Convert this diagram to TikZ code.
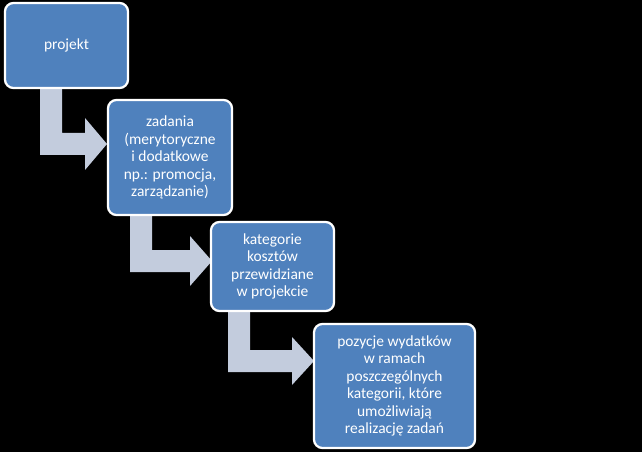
\documentclass[tikz,border=0pt]{standalone}
\usepackage{fontspec}
\setmainfont{Carlito}
\definecolor{boxblue}{HTML}{4F81BD}
\definecolor{arrowgray}{HTML}{C3CCDD}
\begin{document}
\begin{tikzpicture}[x=0.025cm, y=-0.025cm,
                    box_style/.style={draw=white, line width=1.6pt, fill=boxblue, rounded corners=6pt,
                                      text=white, align=center, font=\fontsize{11}{12.5}\selectfont, inner sep=2pt},
                    arrow_style/.style={fill=arrowgray}
   ]
   \fill[black] (0,0) rectangle (642,452);
   % Bent arrows
   \fill[arrow_style] (40,88) -- (62,88) -- (62,133) -- (85,133) -- (85,118) -- (107,144)
        -- (85,170) -- (85,155) -- (40,155) -- cycle;
   \fill[arrow_style] (130,215) -- (152,215) -- (152,250) -- (190,250) -- (190,236) -- (212,261)
        -- (190,286) -- (190,272) -- (130,272) -- cycle;
   \fill[arrow_style] (228,311) -- (250,311) -- (250,350) -- (292,350) -- (292,337) -- (314,361)
        -- (292,385) -- (292,372) -- (228,372) -- cycle;
   % Boxes
   \node[box_style, minimum width=123*0.025cm, minimum height=85*0.025cm] (proj) at (66.5,45.5) {projekt};
   \node[box_style, minimum width=124*0.025cm, minimum height=115*0.025cm] (zad) at (170,157.5)
        {zadania\\(merytoryczne\\i dodatkowe\\np.: promocja,\\zarządzanie)};
   \node[box_style, minimum width=123*0.025cm, minimum height=89*0.025cm] (kat) at (272.5,266.5)
        {kategorie\\kosztów\\przewidziane\\w projekcie};
   \node[box_style, minimum width=161*0.025cm, minimum height=124*0.025cm] (poz) at (394.5,386)
        {pozycje wydatków\\w ramach\\poszczególnych\\kategorii, które\\umożliwiają\\realizację zadań};
\end{tikzpicture}
\end{document}
